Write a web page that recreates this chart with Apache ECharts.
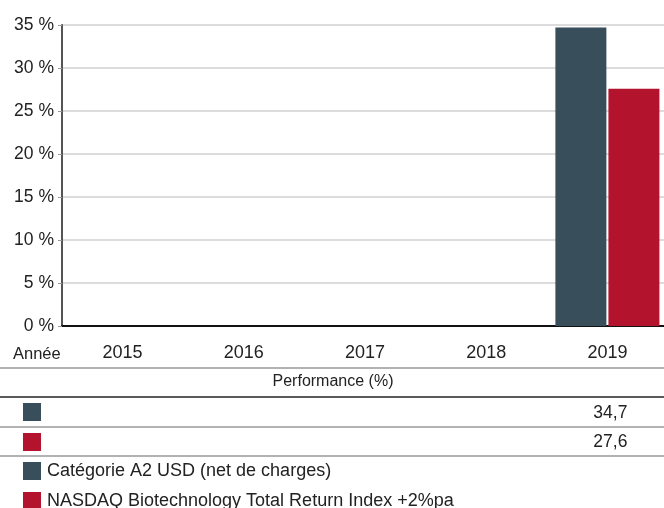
<!DOCTYPE html>
<html><head><meta charset="utf-8">
<script src="https://cdn.jsdelivr.net/npm/echarts@6/dist/echarts.min.js"></script>
<style>html,body{margin:0;padding:0;background:#fff}#c{width:664px;height:508px}</style>
</head><body><div id="c"></div>
<script>
var years = ['2015','2016','2017','2018','2019'];
var fundValues = [null, null, null, null, 34.7];
var indexValues = [null, null, null, null, 27.6];
var yTicks = [0, 5, 10, 15, 20, 25, 30, 35];
var fundName = 'Catégorie A2 USD (net de charges)';
var indexName = 'NASDAQ Biotechnology Total Return Index +2%pa';
var yearLabel = 'Année';
var tableTitle = 'Performance (%)';

var FONT = '"Liberation Sans", Arial, sans-serif';
var C1 = '#384f5b', C2 = '#b3132d';
var chart = echarts.init(document.getElementById('c'));
var gridLeft = 62, gridWidth = 606, W = 664;
var catW = gridWidth / years.length;

function fmt(v){ return v.toFixed(1).replace('.', ','); }

var graphics = [];
function hline(y, color){
  graphics.push({type:'line', shape:{x1:0,y1:y,x2:W,y2:y}, style:{stroke:color, lineWidth:1.5}, silent:true});
}
hline(368, '#999'); hline(397, '#222'); hline(427, '#999'); hline(456, '#999');
graphics.push({type:'text', x:13, y:354, style:{text:yearLabel, font:'16.5px '+FONT, fill:'#222', textVerticalAlign:'middle'}});
graphics.push({type:'text', x:333, y:382, style:{text:tableTitle, font:'16px '+FONT, fill:'#222', textAlign:'center', textVerticalAlign:'middle'}});
graphics.push({type:'rect', shape:{x:23,y:403,width:18,height:18}, style:{fill:C1}});
graphics.push({type:'rect', shape:{x:23,y:433,width:18,height:18}, style:{fill:C2}});
[[fundValues,413],[indexValues,442]].forEach(function(r){
  r[0].forEach(function(v,i){
    if (v == null) return;
    var cx = gridLeft + catW*(i+0.5);
    graphics.push({type:'text', x:cx+20, y:r[1], style:{text:fmt(v), font:'17.5px '+FONT, fill:'#222', textAlign:'right', textVerticalAlign:'middle'}});
  });
});

var legendCommon = {orient:'vertical', left:23, padding:0, itemWidth:18, itemHeight:18, itemGap:6, icon:'rect',
  textStyle:{fontSize:18, color:'#222', fontFamily:FONT, padding:[0,0,0,1]}};

chart.setOption({
  animation:false,
  textStyle:{fontFamily:FONT},
  grid:{left:gridLeft, width:gridWidth, top:25, bottom:182, outerBoundsMode:'none', containLabel:false},
  legend:[
    Object.assign({top:462, data:[fundName]}, legendCommon),
    Object.assign({top:492, data:[indexName]}, legendCommon)
  ],
  xAxis:{
    type:'category', data:years,
    axisLine:{lineStyle:{color:'#111', width:2}},
    axisTick:{show:false},
    axisLabel:{color:'#222', fontSize:18, margin:18, fontFamily:FONT}
  },
  yAxis:{
    type:'value', min:0, max:35, interval:5,
    axisLine:{show:true, lineStyle:{color:'#555', width:2}},
    axisTick:{show:true, length:4, lineStyle:{color:'#999'}},
    splitLine:{lineStyle:{color:'#d0d0d0', width:1.5}},
    axisLabel:{color:'#222', fontSize:17.5, margin:8, fontFamily:FONT, formatter:function(v){return v+' %';}}
  },
  series:[
    {name:fundName, type:'bar', data:fundValues, barWidth:51, barGap:'4%', itemStyle:{color:C1}},
    {name:indexName, type:'bar', data:indexValues, barWidth:51, barGap:'4%', itemStyle:{color:C2}}
  ],
  graphic:graphics
});
</script></body></html>
